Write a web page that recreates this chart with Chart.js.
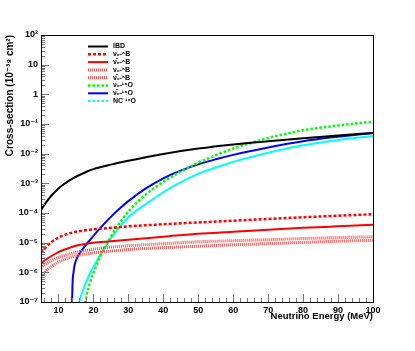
<!DOCTYPE html>
<html>

<head>
    <title>Cross-sections</title>
    <style>
        body {
            margin: 0;
            background: #fff;
        }

        #err {
            position: absolute;
            left: 0;
            top: 320px;
            font-size: 8px;
            color: #c00;
            margin: 0;
        }
    </style>
</head>

<body>
    <canvas id="xsec" width="415" height="351"></canvas>
    <pre id="err"></pre>

    <script src="https://cdn.jsdelivr.net/npm/chart.js"></script>

    <script>
        // energies (MeV) and cross-sections (1e-38 cm2)
        const energyIBD = [5, 6, 7, 8, 10, 12, 14, 16, 18, 20, 25, 30, 40, 50, 60, 70, 80, 90, 100];
        const ibd = [1.26e-4, 1.91e-4, 2.75e-4, 3.89e-4, 6.76e-4, 1.02e-3, 1.45e-3, 1.91e-3, 2.45e-3, 3.02e-3, 4.27e-3, 5.75e-3, 9.77e-3, 1.48e-2, 2.04e-2, 2.63e-2, 3.31e-2, 4.07e-2, 5.01e-2];

        const energy = [5, 6, 8, 10, 12, 15, 20, 25, 30, 40, 50, 60, 70, 80, 90, 100];
        const nueB8 = [4.5e-6, 6.3e-6, 1.05e-5, 1.48e-5, 1.86e-5, 2.34e-5, 2.8e-5, 3.16e-5, 3.55e-5, 4.17e-5, 4.8e-5, 5.5e-5, 6.3e-5, 7.2e-5, 8.1e-5, 9.1e-5];
        const nuebarB8 = [2.0e-6, 2.5e-6, 3.55e-6, 4.8e-6, 6.0e-6, 7.9e-6, 1.0e-5, 1.12e-5, 1.26e-5, 1.58e-5, 2.0e-5, 2.34e-5, 2.75e-5, 3.16e-5, 3.55e-5, 4.0e-5];
        const nuxB8 = [1.41e-6, 1.78e-6, 2.5e-6, 3.16e-6, 3.8e-6, 4.7e-6, 6.0e-6, 7.1e-6, 7.9e-6, 9.3e-6, 1.07e-5, 1.17e-5, 1.26e-5, 1.38e-5, 1.48e-5, 1.58e-5];
        const nuxbarB8 = [7.1e-7, 1.0e-6, 1.58e-6, 2.24e-6, 2.8e-6, 3.55e-6, 4.5e-6, 5.2e-6, 5.9e-6, 6.8e-6, 7.6e-6, 8.5e-6, 9.3e-6, 1.02e-5, 1.12e-5, 1.2e-5];

        const energyNueO = [17.5, 18, 19, 20, 22, 25, 28, 30, 35, 40, 45, 50, 55, 60, 65, 70, 75, 80, 90, 100];
        const nueO16 = [6.3e-8, 1.66e-7, 4.47e-7, 9.5e-7, 3.55e-6, 1.58e-5, 5.6e-5, 1.12e-4, 4.17e-4, 1.12e-3, 2.51e-3, 5.0e-3, 8.9e-3, 1.48e-2, 2.29e-2, 3.39e-2, 4.68e-2, 6.17e-2, 8.9e-2, 0.12];

        const energyNuebarO = [13.85, 14, 14.3, 14.7, 15.5, 16.5, 18, 20, 22, 25, 28, 30, 35, 40, 45, 50, 55, 60, 70, 80, 90, 100];
        const nuebarO16 = [5.0e-8, 3.55e-7, 1.0e-6, 1.91e-6, 3.39e-6, 5.25e-6, 8.9e-6, 1.7e-5, 3.16e-5, 7.4e-5, 1.58e-4, 2.51e-4, 6.76e-4, 1.48e-3, 2.69e-3, 4.37e-3, 6.46e-3, 9.12e-3, 1.62e-2, 2.63e-2, 3.72e-2, 5.01e-2];

        const energyNC = [15.7, 16, 17, 18, 20, 22, 25, 28, 30, 35, 40, 45, 50, 60, 70, 80, 90, 100];
        const ncO16 = [5.0e-8, 1.0e-7, 2.4e-7, 5.0e-7, 1.51e-6, 3.98e-6, 1.41e-5, 3.98e-5, 7.24e-5, 2.0e-4, 5.0e-4, 1.1e-3, 2.09e-3, 5.25e-3, 1.07e-2, 1.91e-2, 2.88e-2, 3.98e-2];

        const xTickLabels = [10, 20, 30, 40, 50, 60, 70, 80, 90, 100];
        const yTickLabels = { 2: '10²', 1: '10', 0: '1', '-1': '10⁻¹', '-2': '10⁻²', '-3': '10⁻³', '-4': '10⁻⁴', '-5': '10⁻⁵', '-6': '10⁻⁶', '-7': '10⁻⁷' };

        function pts(xs, ys) {
            return xs.map((x, i) => ({ x: x, y: ys[i] }));
        }

        // legend sample style kept apart (NC curve is solid but shown dotted in the key)
        const legendStyle = [];

        function curve(label, xs, ys, colour, dash, width, keyDash) {
            legendStyle.push({ label: label, colour: colour, width: width, dash: keyDash || dash });
            return {
                label: label,
                data: pts(xs, ys),
                borderColor: colour,
                borderWidth: width,
                borderDash: dash,
                pointRadius: 0,
                fill: false,
                cubicInterpolationMode: 'monotone'
            };
        }

        const FONT = "'Liberation Sans', 'DejaVu Sans', sans-serif";

        // ROOT style: ticks pointing into the frame, frame box, little legend
        const rootStyle = {
            id: 'rootStyle',
            afterDraw(chart) {
                const ctx = chart.ctx;
                const a = chart.chartArea;
                const xs = chart.scales.x, ys = chart.scales.y;
                try {
                    ctx.save();
                    ctx.strokeStyle = '#777';
                    ctx.lineWidth = 1;
                    ctx.beginPath();
                    for (let d = -7; d <= 1; d++) {
                        for (let m = 1; m <= 9; m++) {
                            const py = Math.round(ys.getPixelForValue(m * Math.pow(10, d))) + 0.5;
                            const len = m === 1 ? 8 : 4;
                            ctx.moveTo(a.left, py);
                            ctx.lineTo(a.left + len, py);
                        }
                    }
                    for (let e = 6; e < 100; e += 2) {
                        const px = Math.round(xs.getPixelForValue(e)) + 0.5;
                        const len = e % 10 === 0 ? 8 : 4;
                        ctx.moveTo(px, a.bottom);
                        ctx.lineTo(px, a.bottom - len);
                    }
                    ctx.stroke();

                    ctx.strokeStyle = '#000';
                    ctx.strokeRect(a.left + 0.5, a.top + 0.5, a.right - a.left, a.bottom - a.top);

                    // legend
                    ctx.font = 'bold 7px ' + FONT;
                    ctx.textBaseline = 'middle';
                    ctx.textAlign = 'left';
                    legendStyle.forEach((s, i) => {
                        const ly = 46.5 + i * 7.8;
                        ctx.strokeStyle = s.colour;
                        ctx.lineWidth = s.width;
                        ctx.setLineDash(s.dash);
                        ctx.beginPath();
                        ctx.moveTo(88, ly);
                        ctx.lineTo(108, ly);
                        ctx.stroke();
                        ctx.setLineDash([]);
                        ctx.fillStyle = '#000';
                        ctx.fillText(s.label, 113, ly);
                    });
                    ctx.restore();
                } catch (e) {
                    document.getElementById('err').textContent = String(e);
                }
            }
        };

        try {
            new Chart(document.getElementById('xsec'), {
                type: 'line',
                data: {
                    datasets: [
                        curve('IBD', energyIBD, ibd, '#000000', [], 2),
                        curve('ν\u2091-\u2078B', energy, nueB8, '#ff0000', [3, 2], 2.5),
                        curve('ν\u0304\u2091-\u2078B', energy, nuebarB8, '#ff0000', [], 2),
                        curve('ν\u2093-\u2078B', energy, nuxB8, '#ff5050', [1, 1], 3),
                        curve('ν\u0304\u2093-\u2078B', energy, nuxbarB8, '#ff5050', [1, 1], 3),
                        curve('ν\u2091-\u00b9\u2076O', energyNueO, nueO16, '#00ff00', [2.5, 2], 2.5),
                        curve('ν\u0304\u2091-\u00b9\u2076O', energyNuebarO, nuebarO16, '#0000ff', [], 2),
                        curve('NC \u00b9\u2076O', energyNC, ncO16, '#00ffff', [], 2, [2.5, 2])
                    ]
                },
                plugins: [rootStyle],
                options: {
                    responsive: false,
                    animation: false,
                    devicePixelRatio: 1,
                    layout: { padding: { top: 35, right: 42, left: 0, bottom: 0 } },
                    plugins: {
                        legend: { display: false },
                        tooltip: { enabled: false }
                    },
                    scales: {
                        x: {
                            type: 'linear',
                            min: 5,
                            max: 100,
                            afterFit(scale) { scale.height = 49; },
                            afterBuildTicks(scale) { scale.ticks = xTickLabels.map(v => ({ value: v })); },
                            grid: { display: false, drawTicks: false, tickLength: 0 },
                            border: { display: false },
                            ticks: {
                                padding: 3,
                                maxRotation: 0,
                                autoSkip: false,
                                color: '#000',
                                font: { family: FONT, size: 9, weight: 'bold' }
                            },
                            title: {
                                display: true,
                                text: 'Neutrino Energy (MeV)',
                                align: 'end',
                                color: '#000',
                                font: { family: FONT, size: 9.5, weight: 'bold' },
                                padding: { top: 0, bottom: 29 }
                            }
                        },
                        y: {
                            type: 'logarithmic',
                            min: 1e-7,
                            max: 100,
                            afterFit(scale) { scale.width = 41; },
                            afterBuildTicks(scale) {
                                const t = [];
                                for (let d = -7; d <= 2; d++) t.push({ value: Math.pow(10, d) });
                                scale.ticks = t;
                            },
                            grid: { display: false, drawTicks: false, tickLength: 0 },
                            border: { display: false },
                            ticks: {
                                padding: 3,
                                autoSkip: false,
                                color: '#000',
                                font: { family: FONT, size: 9, weight: 'bold' },
                                callback: (v) => yTickLabels[Math.round(Math.log10(v))]
                            },
                            title: {
                                display: true,
                                text: 'Cross-section (10⁻³⁸ cm²)',
                                align: 'end',
                                color: '#000',
                                font: { family: FONT, size: 10, weight: 'bold' },
                                padding: { top: 4, bottom: 0 }
                            }
                        }
                    }
                }
            });
        } catch (e) {
            document.getElementById('err').textContent = String(e);
        }
    </script>
</body>

</html>
